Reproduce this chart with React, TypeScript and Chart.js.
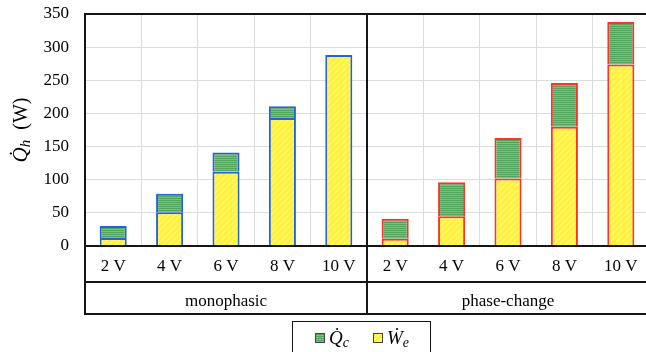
import { useEffect, useRef } from 'react';
import { Chart, registerables } from 'chart.js';

Chart.register(...registerables);

// ---- data ----
const voltages = ['2 V', '4 V', '6 V', '8 V', '10 V', '2 V', '4 V', '6 V', '8 V', '10 V'];
const groups = ['monophasic', 'phase-change'];
const groupOfBar = [0, 0, 0, 0, 0, 1, 1, 1, 1, 1];
const weValues = [12, 51, 112, 193, 288, 11, 45, 102, 180, 274];
const qcValues = [18, 28, 29, 18, 0, 30, 51, 61, 66, 64];
const yMin = 0;
const yMax = 350;
const yStep = 50;
const seriesSymbols = ['W\u0307', 'Q\u0307'];
const seriesSubs = ['e', 'c'];
const groupBorderColors = ['#2462d8', '#ff3226'];

const SERIF = '"Liberation Serif", "Times New Roman", serif';

function makeYellowPattern(): CanvasPattern | string {
  const c = document.createElement('canvas');
  c.width = 6;
  c.height = 6;
  const g = c.getContext('2d');
  if (!g) return '#fff250';
  g.fillStyle = '#fff04a';
  g.fillRect(0, 0, 6, 6);
  g.strokeStyle = '#fff8a6';
  g.lineWidth = 1;
  g.beginPath();
  g.moveTo(0, 6);
  g.lineTo(6, 0);
  g.moveTo(-3, 3);
  g.lineTo(3, -3);
  g.moveTo(3, 9);
  g.lineTo(9, 3);
  g.stroke();
  const p = g.createPattern(c, 'repeat');
  return p || '#fff250';
}

function makeGreenPattern(): CanvasPattern | string {
  const c = document.createElement('canvas');
  c.width = 4;
  c.height = 2;
  const g = c.getContext('2d');
  if (!g) return '#5aaa64';
  g.fillStyle = '#52a55d';
  g.fillRect(0, 0, 4, 1);
  g.fillStyle = '#7cbd84';
  g.fillRect(0, 1, 4, 1);
  const p = g.createPattern(c, 'repeat');
  return p || '#5aaa64';
}

const tablePlugin = {
  id: 'tableLines',
  afterDraw(chart: any) {
    const { ctx, chartArea, scales } = chart;
    const x = scales.x;
    const x2 = scales.x2;
    const left = chartArea.left;
    const right = chart.width;
    const top = chartArea.top;
    const divider = (x.getPixelForValue(4) + x.getPixelForValue(5)) / 2;
    ctx.save();
    ctx.strokeStyle = '#151515';
    ctx.lineWidth = 2;
    ctx.beginPath();
    const hy = [top, chartArea.bottom, x.bottom, x2.bottom];
    for (const y of hy) {
      ctx.moveTo(left - 1, y);
      ctx.lineTo(right, y);
    }
    ctx.moveTo(left, top);
    ctx.lineTo(left, x2.bottom + 1);
    ctx.moveTo(divider, top);
    ctx.lineTo(divider, x2.bottom + 1);
    ctx.stroke();

    // y axis title: Q̇_h  (W)
    ctx.fillStyle = '#000';
    ctx.translate(27, (chartArea.top + chartArea.bottom) / 2);
    ctx.rotate(-Math.PI / 2);
    ctx.textBaseline = 'alphabetic';
    ctx.textAlign = 'left';
    const qFont = 'italic 21px ' + SERIF;
    const hFont = 'italic 15px ' + SERIF;
    const uFont = '20px ' + SERIF;
    ctx.font = qFont;
    const qText = 'Q\u0307';
    const wQ = ctx.measureText(qText).width;
    ctx.font = hFont;
    const wH = ctx.measureText('h').width;
    ctx.font = uFont;
    const uText = '\u2002(W)';
    const wU = ctx.measureText(uText).width;
    let sx = -(wQ + wH + wU) / 2;
    ctx.font = qFont;
    ctx.fillText(qText, sx, 0);
    sx += wQ;
    ctx.font = hFont;
    ctx.fillText('h', sx, 3);
    sx += wH;
    ctx.font = uFont;
    ctx.fillText(uText, sx, 0);
    ctx.restore();

    // legend
    ctx.save();
    ctx.strokeStyle = '#111';
    ctx.lineWidth = 1;
    ctx.strokeRect(292.5, 321.5, 138, 40);
    const ds = chart.data.datasets;
    const order = [1, 0];
    const itemX = [315, 373];
    order.forEach((di: number, k: number) => {
      const bx = itemX[k];
      ctx.fillStyle = ds[di].backgroundColor;
      ctx.fillRect(bx, 333, 10, 10);
      ctx.strokeStyle = '#444';
      ctx.strokeRect(bx + 0.5, 333.5, 9, 9);
      ctx.fillStyle = '#000';
      ctx.textBaseline = 'alphabetic';
      ctx.textAlign = 'left';
      ctx.font = 'italic 19px ' + SERIF;
      const sym = seriesSymbols[di];
      ctx.fillText(sym, bx + 14, 344);
      const w = ctx.measureText(sym).width;
      ctx.font = 'italic 14px ' + SERIF;
      ctx.fillText(seriesSubs[di], bx + 14 + w, 347);
    });
    ctx.restore();
  },
};

export default function App() {
  const ref = useRef<HTMLCanvasElement | null>(null);

  useEffect(() => {
    const canvas = ref.current;
    if (!canvas) return;
    const yellow = makeYellowPattern();
    const green = makeGreenPattern();
    const borders = groupOfBar.map((g) => groupBorderColors[g]);
    const chart = new Chart(canvas, {
      type: 'bar',
      data: {
        labels: voltages,
        datasets: [
          {
            label: 'We',
            data: weValues,
            backgroundColor: yellow as any,
            borderColor: borders,
            borderWidth: 2,
            stack: 's',
          },
          {
            label: 'Qc',
            data: qcValues,
            backgroundColor: green as any,
            borderColor: borders,
            borderWidth: 2,
            stack: 's',
          },
        ],
      },
      options: {
        animation: false,
        responsive: false,
        devicePixelRatio: 1,
        layout: { padding: { top: 14, right: 3, bottom: 38, left: 0 } },
        datasets: { bar: { barPercentage: 0.48, categoryPercentage: 1 } },
        plugins: {
          legend: { display: false },
          tooltip: { enabled: false },
        },
        scales: {
          x: {
            type: 'category',
            stacked: true,
            offset: true,
            position: 'bottom',
            grid: { offset: true, color: '#dcdcdc', lineWidth: 1, drawTicks: false },
            border: { display: false },
            ticks: {
              color: '#000',
              font: { family: SERIF, size: 17 },
              padding: 10.5,
              maxRotation: 0,
              autoSkip: false,
            },
            afterFit: (s: any) => {
              s.height = 36;
              s.paddingLeft = 0;
              s.paddingRight = 0;
            },
          },
          x2: {
            type: 'category',
            labels: groups,
            offset: true,
            position: 'bottom',
            grid: { display: false, drawTicks: false },
            border: { display: false },
            ticks: {
              color: '#000',
              font: { family: SERIF, size: 17 },
              padding: 9.5,
              maxRotation: 0,
              autoSkip: false,
            },
            afterFit: (s: any) => {
              s.height = 32;
              s.paddingLeft = 0;
              s.paddingRight = 0;
            },
          },
          y: {
            stacked: true,
            min: yMin,
            max: yMax,
            grid: { color: '#dcdcdc', lineWidth: 1, drawTicks: false },
            border: { display: false },
            ticks: {
              stepSize: yStep,
              color: '#000',
              font: { family: SERIF, size: 17 },
              padding: 16,
            },
            afterFit: (s: any) => {
              s.width = 85;
              s.paddingTop = 0;
              s.paddingBottom = 0;
            },
          },
        },
      },
      plugins: [tablePlugin],
    });
    return () => chart.destroy();
  }, []);

  return (
    <div
      style={{
        position: 'fixed',
        left: 0,
        top: 0,
        width: 646,
        height: 352,
        overflow: 'hidden',
        background: '#fff',
      }}
    >
      <canvas ref={ref} width={652} height={352} style={{ display: 'block', width: 652, height: 352 }} />
    </div>
  );
}
